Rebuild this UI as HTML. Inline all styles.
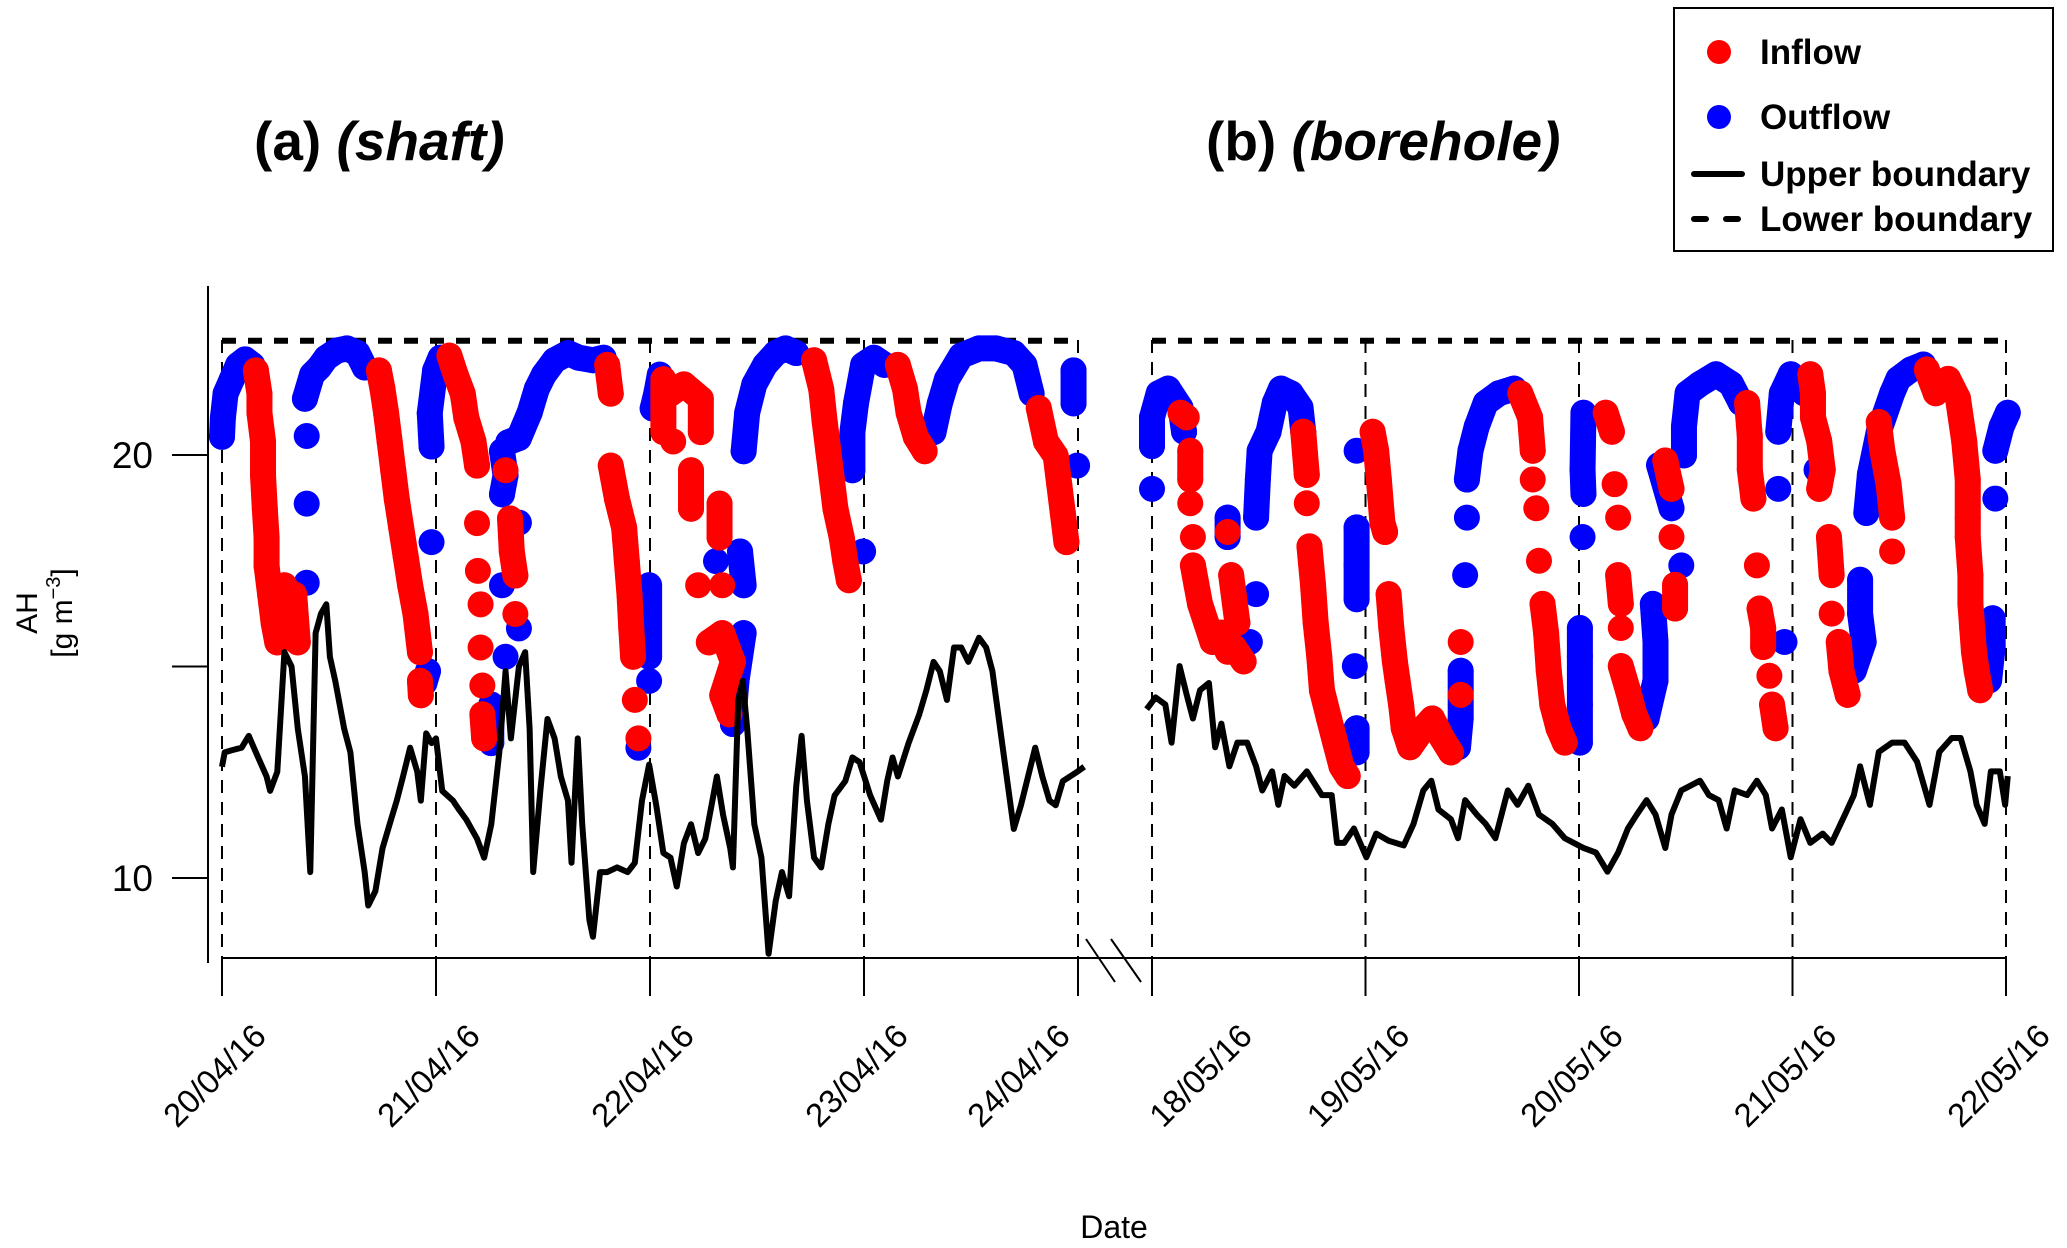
<!DOCTYPE html>
<html><head><meta charset="utf-8">
<style>
html,body{margin:0;padding:0;background:#fff;}
svg{display:block;font-family:"Liberation Sans",Arial,sans-serif;}
</style></head>
<body>
<svg id="chart" width="2067" height="1248" viewBox="0 0 2067 1248" xmlns="http://www.w3.org/2000/svg">
<rect x="0" y="0" width="2067" height="1248" fill="#fff"/>
<text x="254" y="160" font-size="55" font-weight="bold">(a) <tspan font-style="italic">(shaft)</tspan></text>
<text x="1206" y="160" font-size="55" font-weight="bold">(b) <tspan font-style="italic">(borehole)</tspan></text>
<g font-size="30">
<text transform="translate(37,613) rotate(-90)" text-anchor="middle">AH</text>
<text transform="translate(72,613) rotate(-90)" text-anchor="middle">[g m<tspan font-size="20" dy="-12">−3</tspan><tspan dy="12">]</tspan></text>
</g>
<text x="1114" y="1238" font-size="32" text-anchor="middle">Date</text>
<g id="plot"></g>
<g>
<rect x="1674" y="8" width="379" height="243" fill="#fff" stroke="#000" stroke-width="2"/>
<circle cx="1719" cy="52" r="12" fill="#ff0000"/>
<text x="1760" y="64" font-size="35" font-weight="bold">Inflow</text>
<circle cx="1719" cy="117" r="12" fill="#0000ff"/>
<text x="1760" y="129" font-size="35" font-weight="bold">Outflow</text>
<line x1="1694" y1="174" x2="1742" y2="174" stroke="#000" stroke-width="6" stroke-linecap="round"/>
<text x="1760" y="186" font-size="35" font-weight="bold">Upper boundary</text>
<line x1="1694" y1="219" x2="1742" y2="219" stroke="#000" stroke-width="6" stroke-dasharray="12,20" stroke-linecap="round"/>
<text x="1760" y="231" font-size="35" font-weight="bold">Lower boundary</text>
</g>
</svg>
<script>
// ---- data (hours since first date tick, AH g m-3) ----
const ticksA = ["20/04/16","21/04/16","22/04/16","23/04/16","24/04/16"];
const ticksB = ["18/05/16","19/05/16","20/05/16","21/05/16","22/05/16"];
const yTicks = [10,15,20];
const yTickLabels = ["10","","20"];
const lowerBoundary = 22.7;
const upperA = [[0,12.63],[0.3,12.97],[1.1,13.02],[2.2,13.08],[3,13.36],[3.8,12.97],[5,12.4],[5.4,12.06],[6.2,12.51],[7,15.34],[7.8,15],[8.5,13.53],[9.3,12.4],[9.9,10.14],[10.5,15.79],[11.1,16.25],[11.7,16.47],[12.1,15.23],[12.7,14.66],[13.7,13.53],[14.4,12.97],[15.2,11.27],[16,10.14],[16.4,9.35],[17.2,9.69],[18,10.7],[18.8,11.27],[19.6,11.83],[20.3,12.4],[21.1,13.08],[21.9,12.51],[22.3,11.83],[22.9,13.42],[23.5,13.19],[24,13.3],[24.7,12.06],[25.9,11.83],[26.6,11.61],[27.4,11.38],[28.6,10.93],[29.4,10.48],[30.2,11.27],[31.1,12.97],[31.8,14.89],[32.4,13.3],[33.3,15],[34,15.34],[34.5,13.53],[34.9,10.14],[35.7,12.06],[36.5,13.76],[37.3,13.3],[38,12.4],[38.8,11.83],[39.2,10.36],[39.9,13.3],[40.4,11.27],[41.2,9.01],[41.6,8.61],[42.4,10.14],[43.2,10.14],[44.3,10.25],[45.5,10.14],[46.3,10.36],[47.1,11.83],[47.9,12.68],[48.7,11.72],[49.5,10.59],[50.3,10.48],[51,9.8],[51.8,10.82],[52.6,11.27],[53.4,10.59],[54.2,10.93],[55,11.83],[55.5,12.4],[56.2,11.49],[57,10.7],[57.3,10.25],[57.9,14.21],[58.4,14.66],[58.9,13.53],[59.7,11.27],[60.5,10.48],[61.3,8.21],[62.1,9.46],[62.8,10.14],[63.6,9.57],[64.4,12.17],[65,13.36],[65.6,11.83],[66.4,10.48],[67.2,10.25],[68,11.27],[68.7,11.95],[69.9,12.29],[70.7,12.85],[71.5,12.74],[72.7,11.95],[73.9,11.38],[74.6,12.29],[75.2,12.85],[75.8,12.4],[77,13.19],[78.2,13.87],[79,14.44],[79.8,15.11],[80.5,14.89],[81.3,14.21],[82.1,15.45],[82.9,15.45],[83.7,15.11],[84.9,15.68],[85.7,15.45],[86.4,14.89],[87.2,13.64],[88,12.4],[88.8,11.16],[89.6,11.72],[90.4,12.4],[91.2,13.08],[92,12.4],[92.8,11.83],[93.5,11.72],[94.3,12.29],[95.1,12.4],[95.9,12.51],[96.7,12.63]];
const upperB = [[-0.6,13.99],[0.4,14.27],[1.5,14.1],[2.2,13.2],[3.1,15.01],[3.9,14.33],[4.6,13.77],[5.4,14.44],[6.4,14.61],[7.1,13.09],[7.8,13.65],[8.7,12.64],[9.6,13.2],[10.7,13.2],[11.7,12.64],[12.4,12.07],[13.5,12.52],[14.2,11.73],[14.9,12.41],[16,12.18],[17.4,12.52],[19.1,11.96],[20.2,11.96],[20.8,10.83],[21.6,10.83],[22.7,11.17],[24.1,10.49],[25.2,11.05],[26.6,10.88],[28.3,10.77],[29.4,11.28],[30.5,12.07],[31.4,12.3],[32.2,11.62],[33.6,11.39],[34.4,10.94],[35.2,11.84],[36.5,11.5],[37.5,11.28],[38.6,10.94],[40,12.07],[41.1,11.73],[42.3,12.18],[43.5,11.5],[45,11.28],[46.4,10.94],[48.5,10.71],[49.9,10.6],[51.2,10.15],[52.4,10.6],[53.5,11.17],[54.5,11.5],[55.6,11.84],[56.6,11.5],[57.7,10.71],[58.4,11.5],[59.5,12.07],[60.5,12.18],[61.6,12.3],[62.6,11.96],[63.7,11.84],[64.6,11.17],[65.5,12.07],[66.9,11.96],[68,12.3],[69,11.96],[69.7,11.17],[70.8,11.62],[71.8,10.49],[72.9,11.39],[74,10.83],[75.4,11.05],[76.4,10.83],[77.9,11.5],[78.9,11.96],[79.6,12.64],[80.7,11.73],[81.7,12.98],[83.2,13.2],[84.6,13.2],[86,12.75],[87.4,11.73],[88.5,12.98],[89.9,13.31],[90.9,13.31],[92,12.52],[92.7,11.73],[93.6,11.28],[94.3,12.52],[95.3,12.52],[95.9,11.73],[96.2,12.41]];
const outflowA = [
[[0,20.43],[0.1,20.88],[0.4,21.45],[1.1,21.79],[1.8,22.13],[2.6,22.26],[3.4,22.13]],
[[9.5,20.45]],[[9.5,18.85]],[[9.5,16.98]],
[[9.3,21.33],[10.1,21.9],[10.9,22.07],[11.7,22.3],[12.9,22.47],[14,22.52],[15.2,22.41],[16,22.07]],
[[23.5,17.94]],[[23.1,14.89],[22.7,14.61]],
[[23.5,20.2],[23.3,20.99],[23.9,22],[24.5,22.3]],
[[31.4,20.09],[31.8,19.52],[31.4,19.07]],[[31.4,16.92]],[[31.8,15.23]],[[30.2,14.1],[30.2,13.19]],[[33.3,18.4]],[[33.3,15.9]],
[[32.1,20.3],[33.3,20.4],[34.5,21],[35.3,21.56],[36.1,21.9],[37.3,22.24],[38.8,22.41],[40,22.3],[41.6,22.24],[42.8,22.3]],
[[47.9,16.92],[47.9,15.23]],[[47.9,14.66]],[[46.7,13.08]],
[[48.3,21.1],[48.7,21.45],[49.1,21.9]],
[[55.4,17.49]],[[58.1,17.72],[58.5,16.92]],[[58.5,15.79],[57.7,14.66],[57.3,13.64]],
[[58.5,20.09],[58.9,21],[59.7,21.67],[60.9,22.13],[62.1,22.41],[63.2,22.52],[64.4,22.41]],
[[70.7,19.64],[70.7,20.54],[71.1,21.22],[71.9,22.13],[73.1,22.3],[74.3,22.13]],
[[71.9,17.72]],
[[79.8,20.54],[80.5,21.22],[81.3,21.79],[82.9,22.35],[84.9,22.52],[86.8,22.52],[88.8,22.41],[90,22.13],[90.8,21.45]],
[[95.5,22],[95.5,21.22]],[[95.9,19.75]]
];
const inflowA = [
[[3.8,22],[4.2,21.45],[4.2,21],[4.6,20.32],[4.6,19.52],[4.8,18.73],[5,18.05],[5,17.38],[5.4,16.7],[5.8,16.02],[6.2,15.57]],
[[7,16.92],[6.6,16.47],[7.3,16.24],[7.8,15.79],[8.5,15.57],[8.1,16.7]],
[[17.6,22],[18,21.56],[18.4,21],[18.8,20.32],[19.2,19.64],[19.6,18.96],[20.1,18.28],[20.6,17.6],[21.1,16.92],[21.7,16.24],[22.2,15.34]],[[22.2,14.66],[22.3,14.32]],
[[25.5,22.35],[26.2,21.9],[27,21.45],[27.4,20.88],[28.2,20.32],[28.6,19.75]],[[28.6,18.39]],[[28.7,17.26]],[[29,16.47]],[[29,15.45]],[[29.2,14.55]],[[29.2,13.87],[29.4,13.3]],
[[31.8,19.64]],[[32.3,18.5],[32.5,17.72],[32.9,17.15]],[[32.9,16.24]],
[[43.2,22.13],[43.6,21.45]],[[43.6,19.75],[44.3,18.96],[45.1,18.28],[45.4,17.49],[45.7,16.7],[45.9,15.9],[46.1,15.23]],[[46.3,14.21]],[[46.7,13.3]],
[[49.5,20.54],[49.5,21.79],[50.3,21.45],[51.8,21.67],[53.7,21.33],[53.7,20.54]],[[50.6,20.32]],
[[52.6,19.64],[52.6,18.73]],[[55.8,18.85],[55.8,18.05]],[[53.4,16.92]],[[56.1,16.92]],[[54.6,15.57],[56.1,15.79],[57.3,15.11],[56.1,14.32],[56.9,13.87]],
[[66.4,22.24],[67.2,21.56],[67.6,20.77],[68,20.09],[68.4,19.41],[68.8,18.73],[69.5,18.05],[69.9,17.49],[70.3,17.04]],
[[75.8,22.13],[76.6,21.56],[77,21],[77.8,20.43],[78.8,20.09]],
[[91.6,21.11],[92.4,20.32],[93.5,19.98],[93.9,19.3],[94.3,18.62],[94.7,17.94]]
];
const outflowB = [
[[0,19.2]],[[0,20.21],[0,20.89],[0.75,21.46],[1.8,21.57],[3.2,21.12],[3.6,20.55]],
[[8.5,18.52],[8.5,18.06]],[[11.7,16.71]],[[11,15.58]],
[[11.7,18.52],[11.9,19.42],[12.1,20.1],[13.1,20.55],[13.8,21.23],[14.5,21.57],[15.6,21.46],[16.7,21.12],[17,20.55]],
[[23,20.1]],[[23,18.29],[23,17.39],[23,16.59]],[[22.8,15.01]],[[23,13.54],[23,12.97]],
[[35.4,18.52]],[[35.2,17.16]],[[34.7,14.9],[34.7,13.77],[34.4,13.09]],
[[35.4,19.42],[35.8,20.1],[36.5,20.67],[37.5,21.23],[39,21.46],[40.7,21.57]],
[[48.5,21],[48.4,19.65],[48.5,19.08]],[[48.4,18.06]],[[48.1,15.91],[48.1,15.24],[48.1,14.1],[48.1,13.2]],
[[57,19.76],[58.4,18.74]],[[59.5,17.39]],[[56.3,16.48],[56.6,15.58],[56.6,14.67],[55.6,13.77]],
[[59.8,19.99],[59.8,20.67],[60.2,21.46],[61.6,21.68],[63.4,21.91],[65.1,21.68],[66.2,21.23]],
[[70.4,19.2]],[[70.4,20.55],[70.8,21.46],[71.8,21.91],[73.3,21.46]],[[74.7,19.65]],
[[71.1,15.58]],[[79.6,17.05],[79.6,16.25],[80,15.58],[78.9,14.9]],
[[80.3,18.63],[80.7,19.54],[81.7,20.55],[83.2,21.46],[83.9,21.8],[85.3,22.02],[86.7,22.14]],
[[94.8,18.97]],[[94.8,20.1],[95.5,20.67],[96.2,21]],[[94.5,16.14],[94.5,15.46],[94.1,14.67]]
];
const inflowB = [
[[3.2,21],[3.9,20.89]],[[4.3,20.1],[4.3,19.42]],[[4.3,18.86]],[[4.6,18.06]],[[4.6,17.39],[5,16.93],[5.4,16.48],[6.1,16.03],[6.8,15.58],[7.8,15.8],[8.5,15.35],[9.2,15.46],[10.3,15.12]],
[[8.5,18.18]],[[8.9,17.16],[9.6,16.03]],
[[17,20.55],[17.4,19.53]],[[17.4,18.86]],[[17.7,17.84],[18.1,16.93],[18.4,16.03],[18.8,15.24],[19.1,14.44],[19.9,13.77],[20.6,13.2],[21.3,12.64],[22,12.41]],
[[24.8,20.55],[25.2,20.1],[25.5,19.42],[25.9,18.4],[26.2,18.18]],[[26.6,16.71],[26.9,15.91],[27.3,15.12],[27.6,14.67],[28,14.1],[28.3,13.54],[29,13.09],[30.5,13.54],[31.5,13.77],[32.6,13.31],[33.6,12.97]],
[[34.7,15.58]],[[34.7,14.33]],
[[41.4,21.46],[42.5,20.89],[42.8,20.1]],[[42.8,19.42]],[[43.2,18.74]],[[43.5,17.5]],[[43.9,16.48],[44.3,15.8],[44.6,14.9],[45,14.1],[45.7,13.54],[46.4,13.2]],
[[51,21],[51.7,20.55]],[[52,19.31]],[[52.4,18.52]],[[52.4,17.16],[52.7,16.48]],[[52.7,15.91]],[[52.7,15.01],[53.5,14.44],[54.2,13.88],[54.9,13.54]],
[[57.7,19.87],[58.4,19.2]],[[58.4,18.06]],[[58.8,16.93],[58.8,16.37]],
[[66.9,21.23],[67.2,20.44],[67.2,19.65],[67.6,18.97]],[[68,17.39]],[[68.3,16.37],[68.7,15.91],[68.7,15.46]],[[69.4,14.78]],[[69.7,14.1],[70.1,13.54]],
[[74,21.91],[74.3,21.46],[74.3,20.89],[75,20.33],[75.4,19.65],[75,19.2]],[[76.1,18.06],[76.4,17.16]],[[76.4,16.25]],[[77.2,15.58],[77.5,14.9],[78.2,14.33]],
[[81.7,20.78],[82.1,20.1],[82.8,19.31],[83.2,18.52]],[[83.2,17.72]],
[[87.1,22.02],[88.1,21.46],[89.5,21.8],[90.6,21.34],[91.3,20.33],[91.7,19.42],[91.7,18.52],[91.7,18.06],[92,17.16],[92,16.48],[92.2,15.91],[92.4,15.35],[92.7,14.9],[93.1,14.44]]
];

// ---- scales ----
const NS = "http://www.w3.org/2000/svg";
const plot = document.getElementById("plot");
const Y0 = 455, PX_PER_UNIT = 42.3;
function yScale(v){ return Y0 - (v - 20) * PX_PER_UNIT; }
const panels = [
  {key:"a", x0:222, w:856, ticks:ticksA, upper:upperA, inflow:inflowA, outflow:outflowA},
  {key:"b", x0:1152, w:854, ticks:ticksB, upper:upperB, inflow:inflowB, outflow:outflowB}
];
function mk(tag, attrs){ const e=document.createElementNS(NS,tag); for(const k in attrs) e.setAttribute(k,attrs[k]); return e; }
const AXIS_Y = 958, TOP_Y = 340;

const yAxis = mk("line",{x1:208,y1:286,x2:208,y2:963,stroke:"#000","stroke-width":2});


plot.appendChild(yAxis);
yTicks.forEach((v,i)=>{
  const t = mk("line",{x1:172,y1:yScale(v),x2:208,y2:yScale(v),stroke:"#000","stroke-width":2});
  
  
  plot.appendChild(t);
  if(yTickLabels[i]){
    const l = mk("text",{x:153,y:yScale(v)+13,"font-size":37,"text-anchor":"end"});
    l.textContent = yTickLabels[i];
    
    
    plot.appendChild(l);
  }
});
const xAxis = mk("line",{x1:222,y1:AXIS_Y,x2:2006,y2:AXIS_Y,stroke:"#000","stroke-width":2});


plot.appendChild(xAxis);
const brk = mk("g",{stroke:"#000","stroke-width":2});


brk.appendChild(mk("line",{x1:1086,y1:939,x2:1115,y2:982}));
brk.appendChild(mk("line",{x1:1111,y1:939,x2:1141,y2:982}));
plot.appendChild(brk);

panels.forEach(p=>{
  const xs = h => p.x0 + h/96 * p.w;
  const g = mk("g",{});
  
  
  plot.appendChild(g);
  p.ticks.forEach((lab,i)=>{
    const x = xs(i*24);
    const gl = mk("line",{x1:x,y1:TOP_Y,x2:x,y2:AXIS_Y,stroke:"#000","stroke-width":2,"stroke-dasharray":"13,9"});
    
    
    g.appendChild(gl);
    const tk = mk("line",{x1:x,y1:AXIS_Y,x2:x,y2:996,stroke:"#000","stroke-width":2});
    
    
    g.appendChild(tk);
    // labels adjacent to the axis break are nudged apart to avoid overlap
    let shift = 0;
    if(p.key==="a" && i===p.ticks.length-1) shift = -52;
    if(p.key==="b" && i===0) shift = 56;
    const tl = mk("text",{transform:`translate(${x+46+shift},1038) rotate(-45)`,"font-size":33,"text-anchor":"end"});
    tl.textContent = lab;
    
    
    g.appendChild(tl);
  });
  const lb = mk("line",{x1:xs(0),y1:yScale(lowerBoundary),x2:xs(96),y2:yScale(lowerBoundary),stroke:"#000","stroke-width":6,"stroke-dasharray":"14,12"});
  
  
  g.appendChild(lb);
  [["outflow","#0000ff"],["inflow","#ff0000"]].forEach(([name,col])=>{
    const sg = mk("g",{fill:col,stroke:col});
    
    
    g.appendChild(sg);
    p[name].forEach(seg=>{
      if(seg.length>1){
        const pl = mk("polyline",{points:seg.map(d=>xs(d[0])+","+yScale(d[1])).join(" "),fill:"none","stroke-width":26,"stroke-linecap":"round","stroke-linejoin":"round"});
        
        
        sg.appendChild(pl);
      }
      seg.forEach(d=>{
        const c = mk("circle",{cx:xs(d[0]),cy:yScale(d[1]),r:13,stroke:"none"});
        
        
        sg.appendChild(c);
      });
    });
  });
  const ul = mk("polyline",{points:p.upper.map(d=>xs(d[0])+","+yScale(d[1])).join(" "),fill:"none",stroke:"#000","stroke-width":6,"stroke-linejoin":"round"});
  
  
  g.appendChild(ul);
});
</script>
</body></html>
